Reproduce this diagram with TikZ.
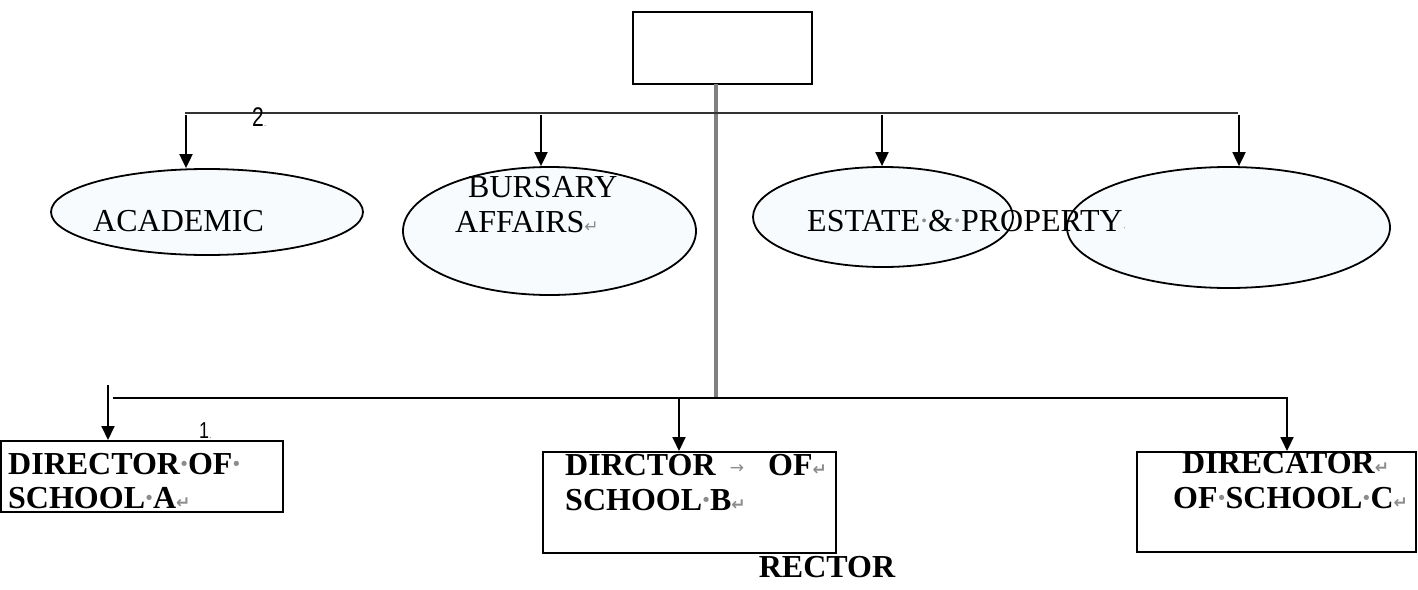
\documentclass[tikz,border=0pt]{standalone}
\usepackage{fontspec}
\setmainfont{Liberation Serif}
\newfontfamily\digitfont{Liberation Sans}
\newfontfamily\markfont{DejaVu Sans}
\usetikzlibrary{arrows.meta,shapes.geometric}

\definecolor{ovalfill}{HTML}{F7FBFE}
\definecolor{markgray}{HTML}{8C8C8C}

% formatting marks: space dot, paragraph return, tab arrow
\newcommand\wsp{\makebox[0.25em][c]{\textcolor{markgray}{·}}}
\newcommand\retmark{\textcolor{markgray}{\markfont\fontsize{17}{17}\selectfont ↵}}
\newcommand\tabmark{\textcolor{markgray}{\markfont\fontsize{17}{17}\selectfont →}}

\tikzset{
  oval/.style={ellipse, draw=black, line width=1.8pt, fill=ovalfill, inner sep=0pt},
  unitbox/.style={rectangle, draw=black, line width=2pt, fill=white, inner sep=0pt},
  lbl/.style={anchor=base west, inner sep=0pt, font=\fontsize{32}{35}\selectfont},
  blbl/.style={anchor=base west, inner sep=0pt, font=\fontsize{32}{35}\selectfont\bfseries},
  feed/.style={draw=black, line width=1.9pt, -{Triangle[width=13pt,length=14pt]}},
  bus/.style={draw=black!80, line width=2pt},
  trunk/.style={draw=black!50, line width=3.5pt},
  num/.style={anchor=base west, inner sep=0pt, font=\digitfont\fontsize{27}{27}\selectfont}
}

\begin{document}
\begin{tikzpicture}[x=1pt, y=-1pt]
\useasboundingbox (0,0) rectangle (1418,589);

% rector box
\node[unitbox, minimum width=179pt, minimum height=72pt] (top) at (722.5,48) {};

% trunk and the two distribution buses
\coordinate (trunkTop) at (716,84);
\coordinate (trunkBot) at (716,398);
\coordinate (busL) at (185,113);
\coordinate (busR) at (1238,113);
\coordinate (lowL) at (113,398);
\coordinate (lowR) at (1288,398);
\draw[trunk] (trunkTop) -- (trunkBot);
\draw[bus] (busL) -- (busR);
\draw[bus, draw=black] (lowL) -- (lowR);

% ovals
\node[oval, minimum width=312pt, minimum height=86pt] (acad) at (207,212) {};
\node[oval, minimum width=293pt, minimum height=128pt] (burs) at (549.5,231) {};
\node[oval, minimum width=260pt, minimum height=100pt] (estate) at (883,217) {};
\node[oval, minimum width=323pt, minimum height=121pt] (blank) at (1228.5,227.5) {};

% school boxes
\node[unitbox, minimum width=282pt, minimum height=71pt] (boxA) at (142,476.5) {};
\node[unitbox, minimum width=293pt, minimum height=101pt] (boxB) at (689.5,502.5) {};
\node[unitbox, minimum width=279pt, minimum height=100pt] (boxC) at (1276.5,502) {};

% feeds from the upper bus
\coordinate (f1) at (186,115);
\coordinate (f2) at (541,115);
\coordinate (f3) at (882,115);
\coordinate (f4) at (1239,115);
\draw[feed] (f1) -- (f1 |- acad.north);
\draw[feed] (f2) -- (f2 |- burs.north);
\draw[feed] (f3) -- (f3 |- estate.north);
\draw[feed] (f4) -- (f4 |- blank.north);

% feeds from the lower bus
\coordinate (g1) at (108,385);
\coordinate (g2) at (679,398);
\coordinate (g3) at (1287,398);
\draw[feed] (g1) -- (g1 |- boxA.north);
\draw[feed] (g2) -- (g2 |- boxB.north);
\draw[feed] (g3) -- (g3 |- boxC.north);

% oval texts
\node[lbl] (tAcad) at (93,231) {ACADEMIC};
\node[lbl] (tBurs1) at (468,197) {BURSARY};
\node[lbl] (tBurs2) at (455,232) {AFFAIRS\retmark};
\node[lbl] (tEstate) at (807,231) {ESTATE\wsp\&\wsp PROPERTY\textcolor{markgray}{\fontsize{10}{10}\selectfont ·}};

% box texts
\node[blbl] (tA1) at (8,474) {DIRECTOR\wsp OF\wsp};
\node[blbl] (tA2) at (8,508) {SCHOOL\wsp A\retmark};
\node[blbl] (tB1) at (565,475) {DIRCTOR};
\node[anchor=base, inner sep=0pt] (tBtab) at (737,473) {\tabmark};
\node[blbl] (tB1b) at (768,475) {OF\retmark};
\node[blbl] (tB2) at (565,510) {SCHOOL\wsp B\retmark};
\node[blbl] (tC1) at (1182,473) {DIRECATOR\retmark};
\node[blbl] (tC2) at (1173,508) {OF\wsp SCHOOL\wsp C\retmark};

% numbers
\node[num] (n2) at (252,126) {\scalebox{0.78}[1]{2}\textcolor{markgray}{\fontsize{10}{10}\selectfont .}};
\node[num] (n1) at (199,438) {\scalebox{0.78}[1]{\fontsize{23}{23}\selectfont 1}\textcolor{markgray}{\fontsize{10}{10}\selectfont .}};

% caption
\node[anchor=base, inner sep=0pt, font=\fontsize{32}{35}\selectfont\bfseries] (rector) at (827,577) {RECTOR};
\end{tikzpicture}
\end{document}
